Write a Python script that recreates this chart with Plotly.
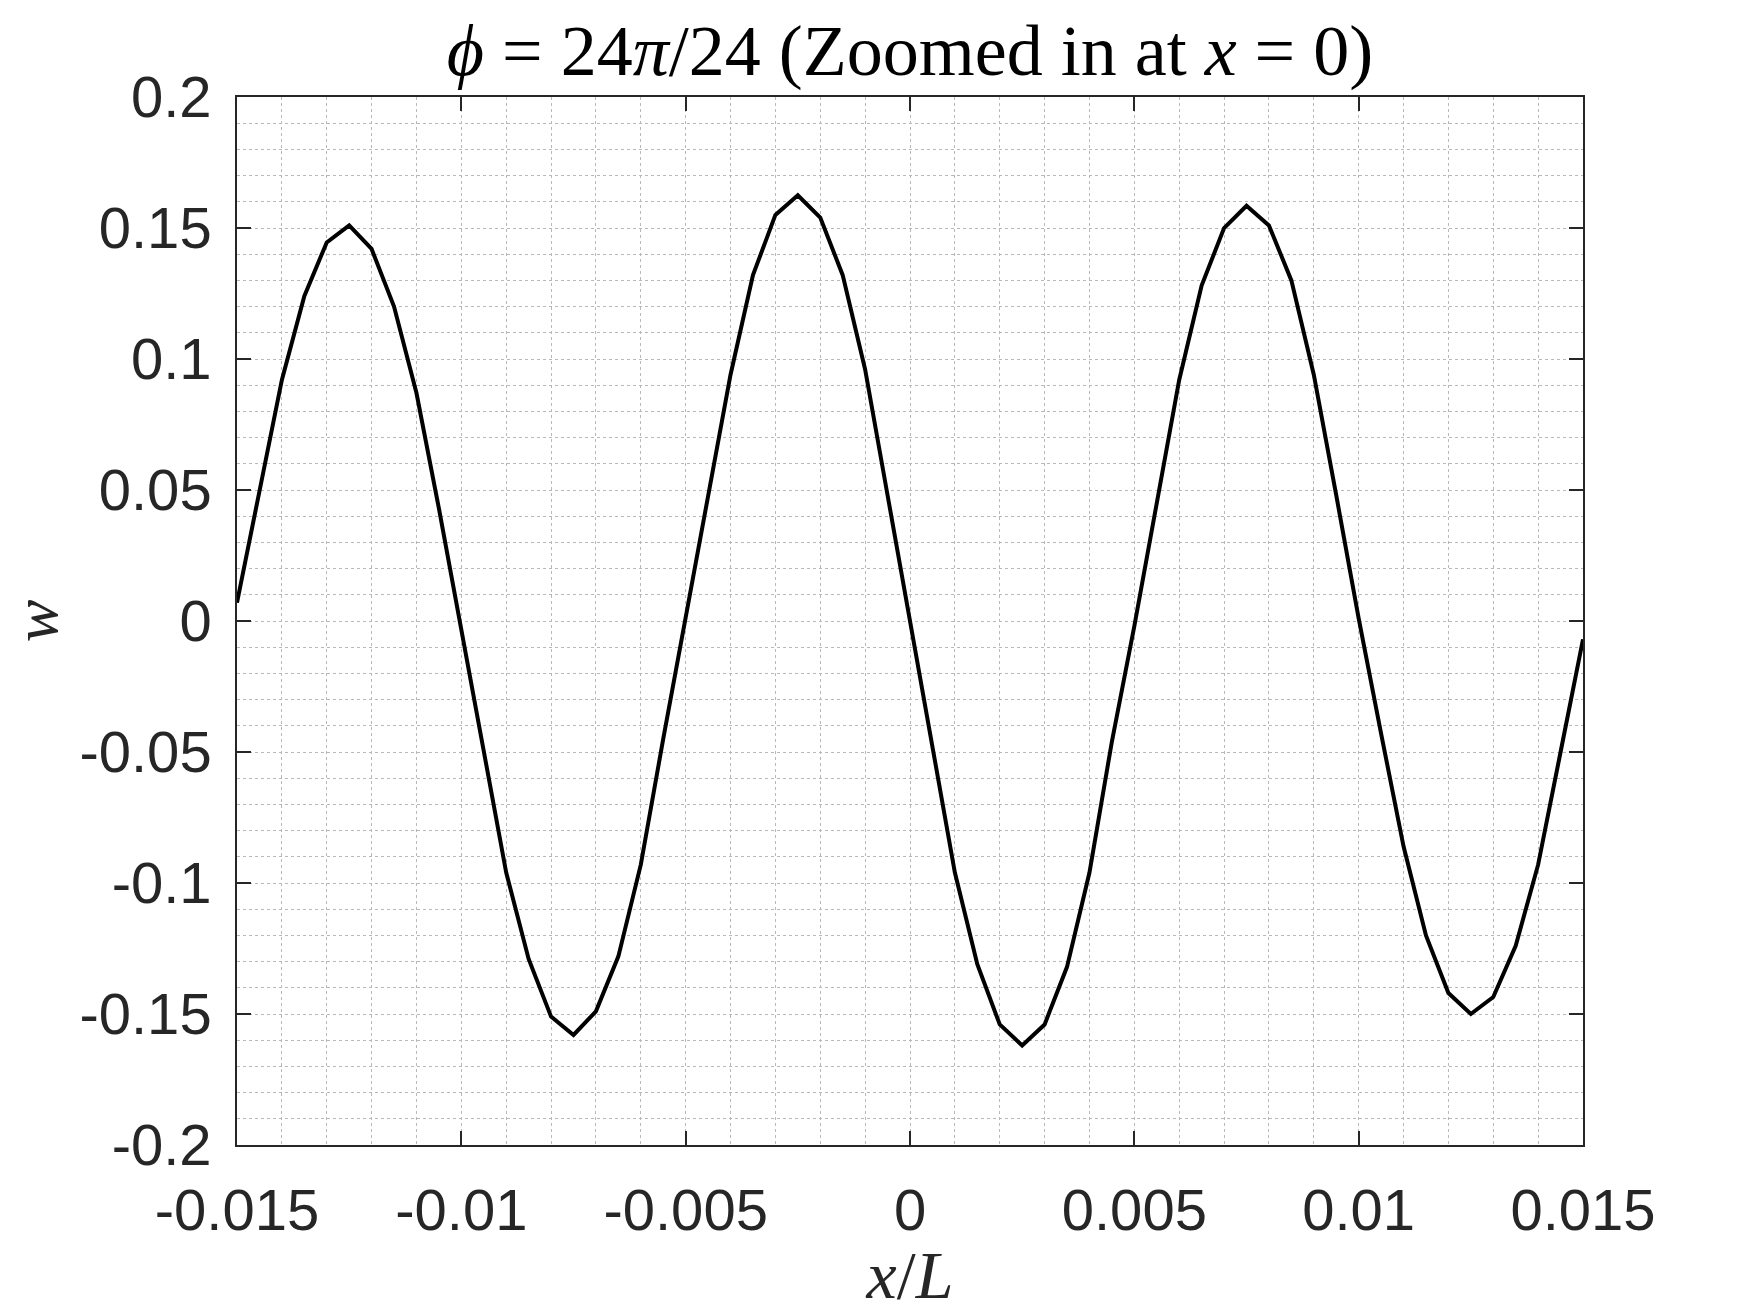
import plotly.graph_objects as go

# x/L sample positions (every 0.0005 from -0.015 to 0.015)
x_vals = [-0.0150, -0.0145, -0.0140, -0.0135, -0.0130, -0.0125, -0.0120, -0.0115, -0.0110, -0.0105,
          -0.0100, -0.0095, -0.0090, -0.0085, -0.0080, -0.0075, -0.0070, -0.0065, -0.0060, -0.0055,
          -0.0050, -0.0045, -0.0040, -0.0035, -0.0030, -0.0025, -0.0020, -0.0015, -0.0010, -0.0005,
          0.0000, 0.0005, 0.0010, 0.0015, 0.0020, 0.0025, 0.0030, 0.0035, 0.0040, 0.0045,
          0.0050, 0.0055, 0.0060, 0.0065, 0.0070, 0.0075, 0.0080, 0.0085, 0.0090, 0.0095,
          0.0100, 0.0105, 0.0110, 0.0115, 0.0120, 0.0125, 0.0130, 0.0135, 0.0140, 0.0145,
          0.0150]

w_vals = [0.007, 0.050, 0.092, 0.124, 0.1445, 0.151, 0.142, 0.120, 0.087, 0.043,
          -0.004, -0.050, -0.096, -0.129, -0.151, -0.158, -0.149, -0.128, -0.093, -0.045,
          0.001, 0.047, 0.094, 0.132, 0.155, 0.1625, 0.154, 0.132, 0.096, 0.048,
          0.000, -0.046, -0.096, -0.131, -0.154, -0.162, -0.154, -0.132, -0.096, -0.046,
          -0.002, 0.045, 0.092, 0.128, 0.150, 0.1585, 0.151, 0.130, 0.094, 0.048,
          0.001, -0.043, -0.086, -0.120, -0.142, -0.150, -0.1435, -0.124, -0.093, -0.050,
          -0.007]

x_tickvals = [-0.015, -0.01, -0.005, 0, 0.005, 0.01, 0.015]
x_ticktext = ["-0.015", "-0.01", "-0.005", "0", "0.005", "0.01", "0.015"]
y_tickvals = [-0.2, -0.15, -0.1, -0.05, 0, 0.05, 0.1, 0.15, 0.2]
y_ticktext = ["-0.2", "-0.15", "-0.1", "-0.05", "0", "0.05", "0.1", "0.15", "0.2"]

title_text = "<i>ϕ</i> = 24<i>π</i>/24 (Zoomed in at <i>x</i> = 0)"
x_title = "<i>x</i>/<i>L</i>"
y_title = "<i>w</i>"

AX = "#262626"
GRID = "#b8b8b8"
TICKFONT = dict(family="Liberation Sans, Arial, sans-serif", size=58, color=AX)
SERIF = "Liberation Serif, Times New Roman, serif"

fig = go.Figure()
fig.add_trace(go.Scatter(x=x_vals, y=w_vals, mode="lines",
                         line=dict(color="black", width=4), showlegend=False))

common = dict(
    showline=True, linecolor=AX, linewidth=1.5, mirror="allticks",
    ticks="inside", ticklen=14, tickwidth=1.5, tickcolor=AX,
    showgrid=True, gridcolor=GRID, griddash="dot", gridwidth=1.3,
    zeroline=False, tickfont=TICKFONT, automargin=False,
)

fig.update_xaxes(
    range=[-0.015, 0.015], tickmode="array", tickvals=x_tickvals, ticktext=x_ticktext,
    minor=dict(tickmode="linear", tick0=0, dtick=0.001, showgrid=True,
               gridcolor=GRID, griddash="dot", gridwidth=1.3, ticks=""),
    title=dict(text=x_title, font=dict(family=SERIF, size=68, color=AX), standoff=6),
    ticklabelstandoff=14,
    **common,
)
fig.update_yaxes(
    range=[-0.2, 0.2], tickmode="array", tickvals=y_tickvals, ticktext=y_ticktext,
    minor=dict(tickmode="linear", tick0=0, dtick=0.01, showgrid=True,
               gridcolor=GRID, griddash="dot", gridwidth=1.3, ticks=""),
    title=dict(text=y_title, font=dict(family=SERIF, size=64, color=AX), standoff=26),
    ticklabelstandoff=12,
    **common,
)

fig.update_layout(
    width=1750, height=1313,
    margin=dict(l=237, r=167, t=97, b=168),
    paper_bgcolor="white", plot_bgcolor="white",
    title=dict(text=title_text, x=0.5, xref="paper", xanchor="center",
               y=1 - 50 / 1313, yref="container", yanchor="middle",
               font=dict(family=SERIF, size=72, color="black")),
)

fig.write_html("out.html")
